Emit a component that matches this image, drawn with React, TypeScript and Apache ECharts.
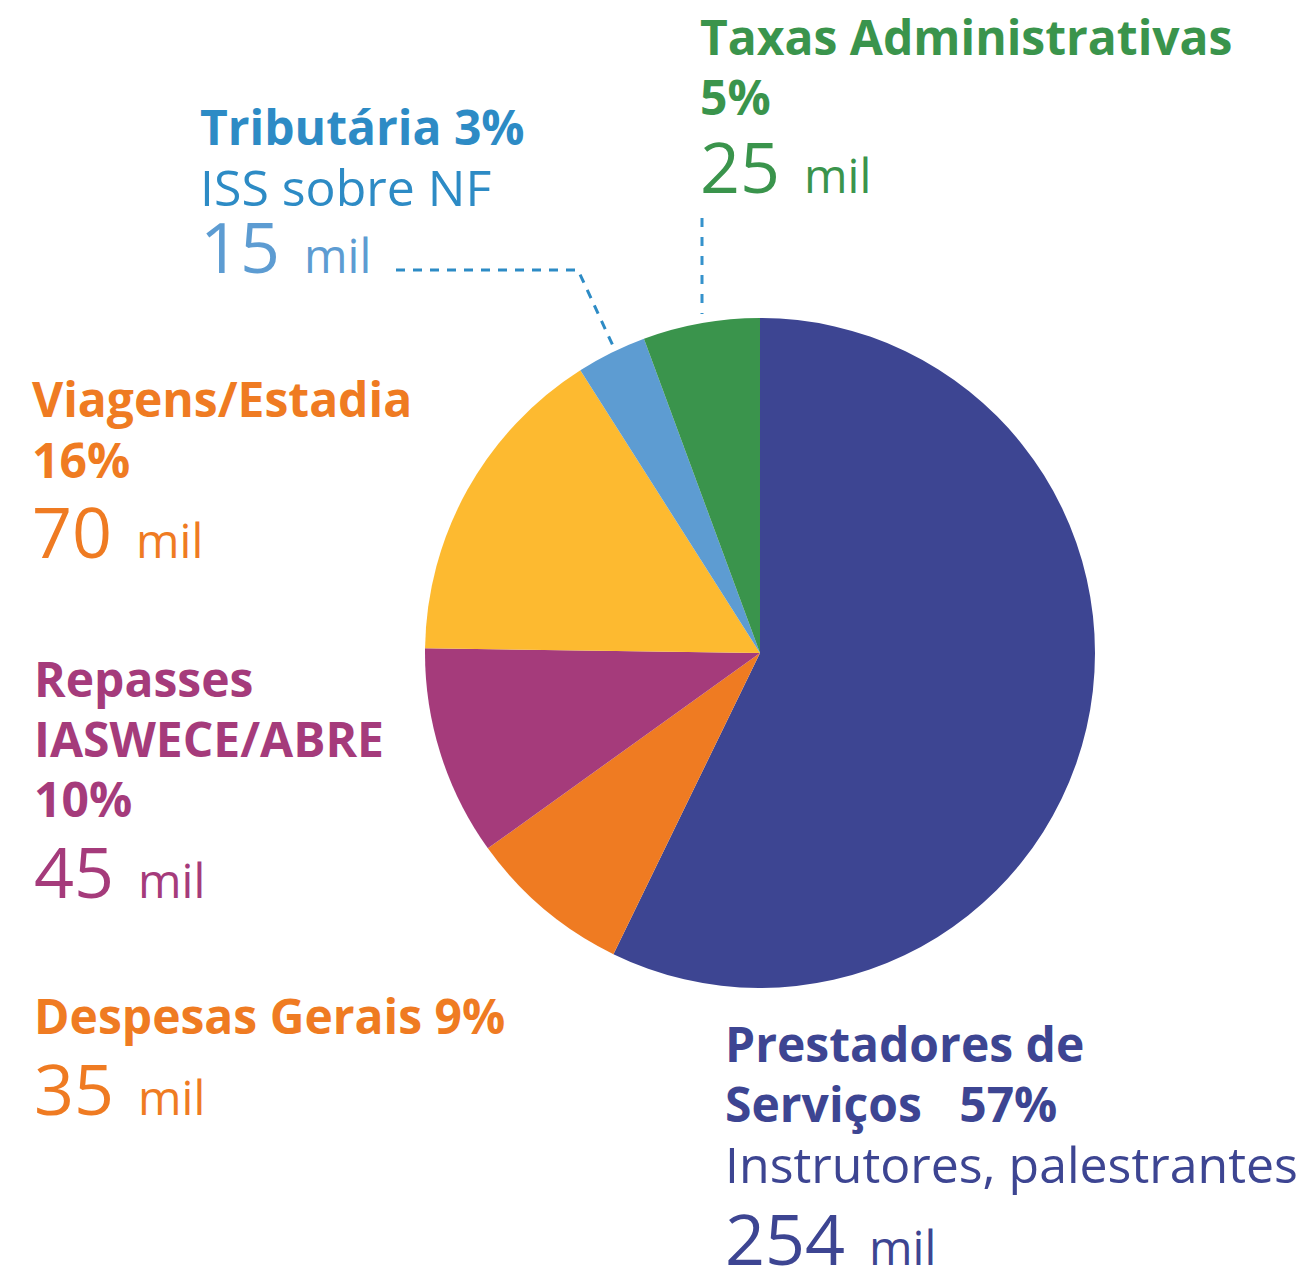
import React, { useEffect, useRef } from "react";
import * as echarts from "echarts";

// ---- data ----
const categories = [
  "Prestadores de Serviços",
  "Despesas Gerais",
  "Repasses IASWECE/ABRE",
  "Viagens/Estadia",
  "Tributária",
  "Taxas Administrativas",
];
const values = [254, 35, 45, 70, 15, 25];
const percents = [57, 9, 10, 16, 3, 5];
const details = ["Instrutores, palestrantes", "", "", "", "ISS sobre NF", ""];
const unit = "mil";
// how each heading wraps ({p} = percent)
const headingLines = [
  ["Prestadores de", "Serviços   {p}"],
  ["Despesas Gerais {p}"],
  ["Repasses", "IASWECE/ABRE", "{p}"],
  ["Viagens/Estadia", "{p}"],
  ["Tributária {p}"],
  ["Taxas Administrativas", "{p}"],
];

// ---- styles / layout ----
const sliceColors = ["#3d4592", "#ef7b22", "#a53b7b", "#fdba30", "#5d9cd2", "#3a944c"];
const headColors = ["#3d4592", "#ef7b22", "#a53b7b", "#ef7b22", "#2d8bc5", "#3a944c"];
const numColors = ["#3d4592", "#ef7b22", "#a53b7b", "#ef7b22", "#5d9cd2", "#3a944c"];
const layout = [
  { x: 725, heads: [1062, 1122], detail: 1183, num: 1265 },
  { x: 34, heads: [1034], detail: 0, num: 1115 },
  { x: 34, heads: [697, 757, 817], detail: 0, num: 898 },
  { x: 32, heads: [417, 478], detail: 0, num: 558 },
  { x: 200, heads: [145], detail: 206, num: 273 },
  { x: 700, heads: [55, 115], detail: 0, num: 193 },
];
const FONT = '"Open Sans", "Noto Sans", sans-serif';
const HEAD_FS = 48;
const DETAIL_FS = 50;
const NUM_FS = 70;
const UNIT_FS = 47;
const UNIT_GAP = 24;
const K = 0.388; // central-baseline offset ratio

function measure(text: string, fs: number, weight: string) {
  const c = document.createElement("canvas").getContext("2d")!;
  c.font = `${weight} ${fs}px ${FONT}`;
  return c.measureText(text).width;
}

function txt(text: string, x: number, baseline: number, fs: number, weight: string, color: string) {
  return {
    type: "text",
    silent: true,
    style: {
      text,
      x,
      y: baseline - K * fs,
      fill: color,
      fontFamily: FONT,
      fontSize: fs,
      fontWeight: weight,
      lineHeight: Math.round(fs * 0.95),
      verticalAlign: "middle",
      align: "left",
    },
  };
}

export default function App() {
  const ref = useRef<HTMLDivElement>(null);
  useEffect(() => {
    if (!ref.current) return;
    const chart = echarts.init(ref.current, null, { renderer: "svg" });
    const graphics: any[] = [];
    categories.forEach((_, i) => {
      const L = layout[i];
      headingLines[i].forEach((line, j) => {
        graphics.push(txt(line.replace("{p}", percents[i] + "%"), L.x, L.heads[j], HEAD_FS, "bold", headColors[i]));
      });
      if (details[i]) graphics.push(txt(details[i], L.x, L.detail, DETAIL_FS, "normal", headColors[i]));
      const numText = String(values[i]);
      graphics.push(txt(numText, L.x, L.num, NUM_FS, "normal", numColors[i]));
      const w = measure(numText, NUM_FS, "normal");
      graphics.push(txt(unit, L.x + w + UNIT_GAP, L.num, UNIT_FS, "normal", numColors[i]));
    });
    // leader lines
    graphics.push({
      type: "line",
      silent: true,
      shape: { x1: 702, y1: 218, x2: 702, y2: 314 },
      style: { stroke: "#3592cc", lineWidth: 3, lineDash: [9, 10] },
    });
    graphics.push({
      type: "polyline",
      silent: true,
      shape: { points: [[396, 270], [578, 270], [614, 348]] },
      style: { stroke: "#2d8bc5", lineWidth: 3, lineDash: [9, 8], fill: null },
    });

    chart.setOption({
      animation: false,
      backgroundColor: "#ffffff",
      series: [
        {
          type: "pie",
          center: [760, 653],
          radius: 335,
          startAngle: 90,
          clockwise: true,
          label: { show: false },
          labelLine: { show: false },
          emphasis: { disabled: true },
          itemStyle: { borderWidth: 0 },
          data: categories.map((name, i) => ({
            name,
            value: values[i],
            itemStyle: { color: sliceColors[i] },
          })),
        },
      ],
      graphic: { elements: graphics },
    });
    return () => chart.dispose();
  }, []);
  return (
    <div
      ref={ref}
      style={{ position: "fixed", left: 0, top: 0, width: 1304, height: 1271 }}
    />
  );
}
